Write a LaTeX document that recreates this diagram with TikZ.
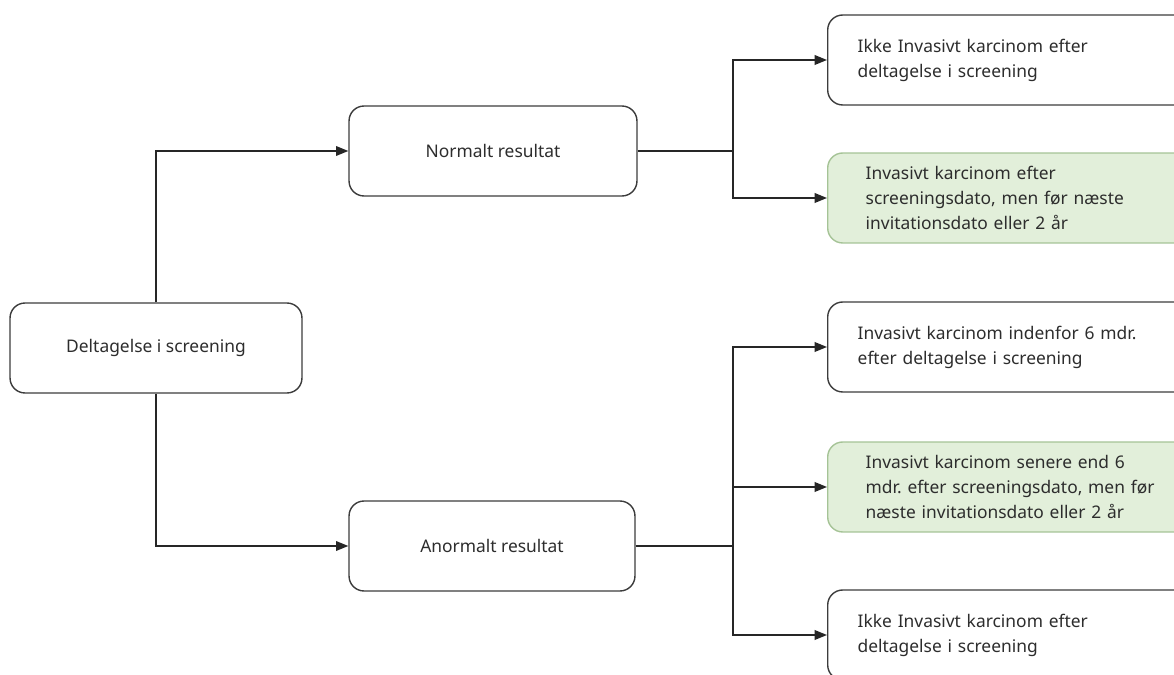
\documentclass[tikz,border=0pt]{standalone}
\usepackage{fontspec}
\setmainfont{Noto Sans}
\usetikzlibrary{arrows.meta}
\frenchspacing
\definecolor{boxline}{RGB}{60,60,60}
\definecolor{greenfill}{RGB}{226,239,218}
\definecolor{greenline}{RGB}{165,195,150}
\definecolor{txt}{RGB}{45,45,45}
\tikzset{
  stage/.style={draw=boxline,line width=0.8pt,rounded corners=0.3cm,fill=white,
    text=txt,font=\fontsize{9.9}{14.2}\selectfont,minimum height=1.8cm,align=center},
  outcome/.style={stage,anchor=west,minimum width=7.4cm,text width=6.6cm,inner xsep=0.6cm,align=left},
  interval/.style={outcome,fill=greenfill,draw=greenline,inner xsep=0.76cm,text width=6.5cm},
  flow/.style={draw=black!85,line width=0.8pt,-{Triangle[length=7pt,width=5.5pt]}},
  link/.style={draw=black!85,line width=0.8pt}
}
\begin{document}
\begin{tikzpicture}[x=0.02cm,y=-0.02cm]
	\useasboundingbox (0,0) rectangle (1174,675);
	\clip (0,0) rectangle (1174,675);
	% screening and the two results
	\node[stage,minimum width=5.84cm] (delt) at (156,348) {Deltagelse i screening};
	\node[stage,minimum width=5.76cm] (norm) at (493,151) {Normalt resultat};
	\node[stage,minimum width=5.72cm] (anorm) at (492,546) {Anormalt resultat};
	% outcomes
	\node[outcome] (ikke1) at (827,60) {Ikke Invasivt karcinom efter\\deltagelse i screening};
	\node[interval] (inv1) at (827,198) {Invasivt karcinom efter\\screeningsdato, men før næste\\invitationsdato eller 2 år};
	\node[outcome] (inv6) at (827,347) {Invasivt karcinom indenfor 6 mdr.\\efter deltagelse i screening};
	\node[interval] (inv2) at (827,487) {Invasivt karcinom senere end 6\\mdr. efter screeningsdato, men før\\næste invitationsdato eller 2 år};
	\node[outcome] (ikke2) at (827,635) {Ikke Invasivt karcinom efter\\deltagelse i screening};
	\coordinate (nsplit) at (733,151);
	\coordinate (asplit) at (733,546);
	\draw[flow] (delt.north) |- (norm.west);
	\draw[flow] (delt.south) |- (anorm.west);
	\draw[link] (norm.east) -- (nsplit);
	\draw[link] (anorm.east) -- (asplit);
	\draw[flow] (nsplit) |- (ikke1.west);
	\draw[flow] (nsplit) |- (inv1.west);
	\draw[flow] (asplit) |- (inv6.west);
	\draw[flow] (asplit) |- (inv2.west);
	\draw[flow] (asplit) |- (ikke2.west);
\end{tikzpicture}
\end{document}
